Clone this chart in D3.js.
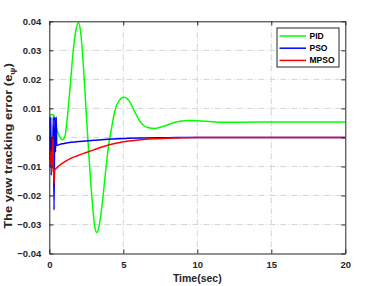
<!DOCTYPE html>
<html>
<head>
<meta charset="utf-8">
<script src="https://cdn.jsdelivr.net/npm/d3@7"></script>
<style>
  body { margin: 0; background: #fff; }
  svg { display: block; }
</style>
</head>
<body>
<script>
// ticks
var xTicks = [0, 5, 10, 15, 20]
var yTicks = [-0.04, -0.03, -0.02, -0.01, 0, 0.01, 0.02, 0.03, 0.04]

// PID (green)
var pidT = [0, 0.15, 0.3, 0.5, 0.7, 0.9, 1.05, 1.2, 1.4, 1.6, 1.8, 1.97, 2.1, 2.3, 2.5, 2.7, 2.9, 3.05, 3.2, 3.35, 3.55, 3.8, 4.0, 4.2, 4.4, 4.7, 5.05, 5.4, 5.8, 6.2, 6.7, 7.15, 7.7, 8.5, 9.3, 10, 11, 12, 14, 17, 20]
var pidV = [0.0075, 0.0079, 0.0076, 0.003, 0.0002, -0.0008, 0.0002, 0.006, 0.017, 0.029, 0.037, 0.0395, 0.037, 0.025, 0.008, -0.008, -0.022, -0.030, -0.0328, -0.031, -0.024, -0.012, -0.003, 0.003, 0.0085, 0.0125, 0.0138, 0.0125, 0.0085, 0.005, 0.0033, 0.0031, 0.0038, 0.0052, 0.0058, 0.0057, 0.0054, 0.0052, 0.0053, 0.0053, 0.0053]

// PSO (blue)
var psoT = [0, 0.05, 0.1, 0.13, 0.18, 0.22, 0.27, 0.32, 0.37, 0.42, 0.47, 0.5, 0.7, 1, 1.5, 2, 3, 4, 5, 6, 8, 10, 20]
var psoV = [0.007, -0.010, 0.007, -0.013, 0.0, -0.008, 0.007, -0.025, 0.007, -0.005, 0.007, -0.0028, -0.0024, -0.0021, -0.0017, -0.0014, -0.001, -0.0006, -0.0004, -0.0002, -0.0001, 0, 0]

// MPSO (red)
var mpsoT = [0, 0.04, 0.08, 0.12, 0.16, 0.2, 0.24, 0.28, 0.32, 0.36, 0.5, 0.8, 1.2, 1.6, 2, 2.5, 3, 3.5, 4, 4.5, 5, 6, 7, 8, 9, 10, 20]
var mpsoV = [-0.0075, -0.004, -0.009, -0.005, -0.012, -0.006, 0.0005, -0.010, -0.016, -0.0113, -0.0105, -0.0092, -0.0079, -0.0069, -0.0061, -0.0052, -0.0043, -0.0034, -0.0026, -0.002, -0.0015, -0.0009, -0.0005, -0.0003, -0.0001, 0, 0]

var seriesNames = ["PID", "PSO", "MPSO"]
var seriesColors = ["#00ff00", "#0000ff", "#ff0000"]

var width = 382, height = 286
var margin = {top: 21.3, right: 36.7, bottom: 32.5, left: 49.3}
var font = "'Liberation Sans', Arial, sans-serif"

var xScale = d3.scaleLinear().domain([0, 20]).range([margin.left, width - margin.right])
var yScale = d3.scaleLinear().domain([-0.04, 0.04]).range([height - margin.bottom, margin.top])

const svg = d3.select("body").append("svg")
    .attr("width", width)
    .attr("height", height)
    .attr("font-family", font)
    .attr("font-weight", "bold")

// grid
svg.append("g")
    .selectAll("line")
    .data(xTicks.slice(1, -1))
    .join("line")
        .attr("x1", d => xScale(d)).attr("x2", d => xScale(d))
        .attr("y1", yScale(0.04)).attr("y2", yScale(-0.04))
        .attr("stroke", "#d4d4d4").attr("stroke-width", 1)
        .attr("stroke-dasharray", "6,2,1,2")
svg.append("g")
    .selectAll("line")
    .data(yTicks.slice(1, -1))
    .join("line")
        .attr("x1", xScale(0)).attr("x2", xScale(20))
        .attr("y1", d => yScale(d)).attr("y2", d => yScale(d))
        .attr("stroke", "#d4d4d4").attr("stroke-width", 1)
        .attr("stroke-dasharray", "6,2,1,2")

// lines
var line = d3.line()
    .x(d => xScale(d[0]))
    .y(d => yScale(d[1]))
    .curve(d3.curveMonotoneX)

var series = [
    d3.zip(pidT, pidV),
    d3.zip(psoT, psoV),
    d3.zip(mpsoT, mpsoV)
]
svg.append("clipPath").attr("id", "clip")
    .append("rect")
    .attr("x", margin.left).attr("y", margin.top)
    .attr("width", xScale(20) - margin.left).attr("height", yScale(-0.04) - margin.top)

svg.append("g")
    .attr("clip-path", "url(#clip)")
    .selectAll("path")
    .data(series)
    .join("path")
        .attr("d", line)
        .attr("fill", "none")
        .attr("stroke", (d, i) => seriesColors[i])
        .attr("stroke-width", 1.5)

// axes
var xAxis = g => g
    .attr("transform", `translate(0,${yScale(-0.04)})`)
    .call(d3.axisBottom(xScale).tickValues(xTicks).tickSizeInner(-4).tickSizeOuter(0).tickPadding(8))
var xAxisTop = g => g
    .attr("transform", `translate(0,${yScale(0.04)})`)
    .call(d3.axisTop(xScale).tickValues(xTicks).tickSizeInner(-4).tickSizeOuter(0).tickFormat(""))
var yAxis = g => g
    .attr("transform", `translate(${xScale(0)},0)`)
    .call(d3.axisLeft(yScale).tickValues(yTicks).tickSizeInner(-4).tickSizeOuter(0).tickPadding(8)
        .tickFormat(d => d === 0 ? "0" : d3.format(".2f")(d)))
var yAxisRight = g => g
    .attr("transform", `translate(${xScale(20)},0)`)
    .call(d3.axisRight(yScale).tickValues(yTicks).tickSizeInner(-4).tickSizeOuter(0).tickFormat(""))

;[xAxis, xAxisTop, yAxis, yAxisRight].forEach(ax => {
    svg.append("g").call(ax)
        .call(g => g.selectAll("path, line").attr("stroke", "#262626"))
        .call(g => g.selectAll("text")
            .attr("font-family", font)
            .attr("font-size", 9.5)
            .attr("font-weight", "bold")
            .attr("fill", "#262626"))
})

// axis labels
svg.append("text")
    .attr("x", (xScale(0) + xScale(20)) / 2)
    .attr("y", 282)
    .attr("text-anchor", "middle")
    .attr("font-size", 10.5)
    .attr("fill", "#262626")
    .text("Time(sec)")

// y label is stretched along its length in the reference
var yl = svg.append("text")
    .attr("transform", "translate(12,146) rotate(-90) scale(1.18,1)")
    .attr("text-anchor", "middle")
    .attr("font-size", 11)
    .attr("fill", "#262626")
yl.append("tspan").text("The yaw tracking error (e")
yl.append("tspan").attr("font-size", 8).attr("dy", 3).text("ψ")
yl.append("tspan").attr("dy", -3).text(")")

// legend
var legend = svg.append("g").attr("transform", "translate(277,28)")
legend.append("rect")
    .attr("width", 62).attr("height", 39)
    .attr("fill", "#fff").attr("stroke", "#262626").attr("stroke-width", 1)
legend.selectAll("g")
    .data(seriesNames)
    .join("g")
        .attr("transform", (d, i) => `translate(0,${8 + i * 12.2})`)
        .call(g => g.append("line")
            .attr("x1", 2.5).attr("x2", 29)
            .attr("stroke", (d, i) => seriesColors[i]).attr("stroke-width", 1.5))
        .call(g => g.append("text")
            .attr("x", 32.5).attr("dy", "0.35em")
            .attr("font-size", 8.5).attr("fill", "#000")
            .text(d => d))
</script>
</body>
</html>
